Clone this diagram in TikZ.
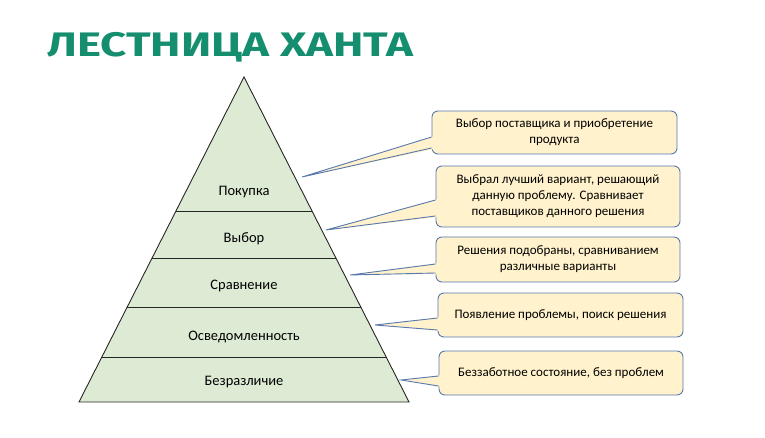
\documentclass[tikz,border=0pt]{standalone}
\usepackage{fontspec}
\setmainfont{Carlito}
\newfontfamily\titlefont{Fira Sans}
\usetikzlibrary{calc}
\definecolor{pyrgreen}{HTML}{DDEBD5}
\definecolor{boxfill}{HTML}{FFF2CC}
\definecolor{boxline}{HTML}{5878AE}
\definecolor{titlegreen}{RGB}{20,142,110}
\definecolor{pyrline}{HTML}{262626}
\tikzset{
  callout/.style={draw=boxline, fill=boxfill, line width=0.9pt, rounded corners=6pt,
    minimum width=#1, inner sep=0pt, align=center, font=\fontsize{13}{16}\selectfont},
  levellabel/.style={font=\fontsize{14.5}{16}\selectfont, inner sep=0pt},
  wedgeline/.style={draw=boxline, line width=0.9pt},
  pyredge/.style={draw=pyrline, line width=0.9pt}
}
\begin{document}
\begin{tikzpicture}[x=1pt,y=-1pt]
\useasboundingbox (0,0) rectangle (765,438);

% title
\node[anchor=base west, text=titlegreen, inner sep=0pt] (title) at (47,57)
  {\scalebox{1.34}[1]{\titlefont\bfseries\fontsize{34}{34}\selectfont ЛЕСТНИЦА ХАНТА}};

% pyramid
\coordinate (apex) at (244,77);
\coordinate (bl) at (79,402);
\coordinate (br) at (409,402);
\fill[pyrgreen] (apex) -- (bl) -- (br) -- cycle;
\foreach \y/\n in {211/a,258/b,307/c,357/d}{
  \coordinate (L\n) at ($(apex)!{(\y-77)/325}!(bl)$);
  \coordinate (R\n) at ($(apex)!{(\y-77)/325}!(br)$);
  \draw[pyredge] (L\n) -- (R\n);
}
\draw[pyredge, line join=miter] (apex) -- (bl) -- (br) -- cycle;

\node[levellabel] (l1) at (244,192) {Покупка};
\node[levellabel] (l2) at (244,239) {Выбор};
\node[levellabel] (l3) at (244,286) {Сравнение};
\node[levellabel] (l4) at (244,337) {Осведомленность};
\node[levellabel] (l5) at (244,382) {Безразличие};

% callout boxes
\node[callout=245pt, minimum height=43pt] (b1) at (554.5,132.5)
  {Выбор поставщика и приобретение\\продукта};
\node[callout=244pt, minimum height=61pt] (b2) at (558,196.5)
  {Выбрал лучший вариант, решающий\\данную проблему. Сравнивает\\поставщиков данного решения};
\node[callout=244pt, minimum height=45pt] (b3) at (558,259.5)
  {Решения подобраны, сравниванием\\различные варианты};
\node[callout=245pt, minimum height=44pt] (b4) at (560.5,315)
  {Появление проблемы, поиск решения};
\node[callout=244pt, minimum height=44pt] (b5) at (561,373)
  {Беззаботное состояние, без проблем};

% wedges
\foreach \b/\tx/\ty/\ya/\yb in {b1/302/177/137/148, b2/326/230/200/216, b3/350/275/264/273, b4/375/325/318/330, b5/401/380/376/386}{
  \coordinate (\b tip) at (\tx,\ty);
  \coordinate (\b up) at (\b.west |- 0,\ya);
  \coordinate (\b lo) at (\b.west |- 0,\yb);
  \fill[boxfill] (\b tip) -- ($(\b up)+(3,-1)$) -- ($(\b lo)+(3,1)$) -- cycle;
  \draw[wedgeline, line join=miter] (\b up) -- (\b tip) -- (\b lo);
}
\end{tikzpicture}
\end{document}
